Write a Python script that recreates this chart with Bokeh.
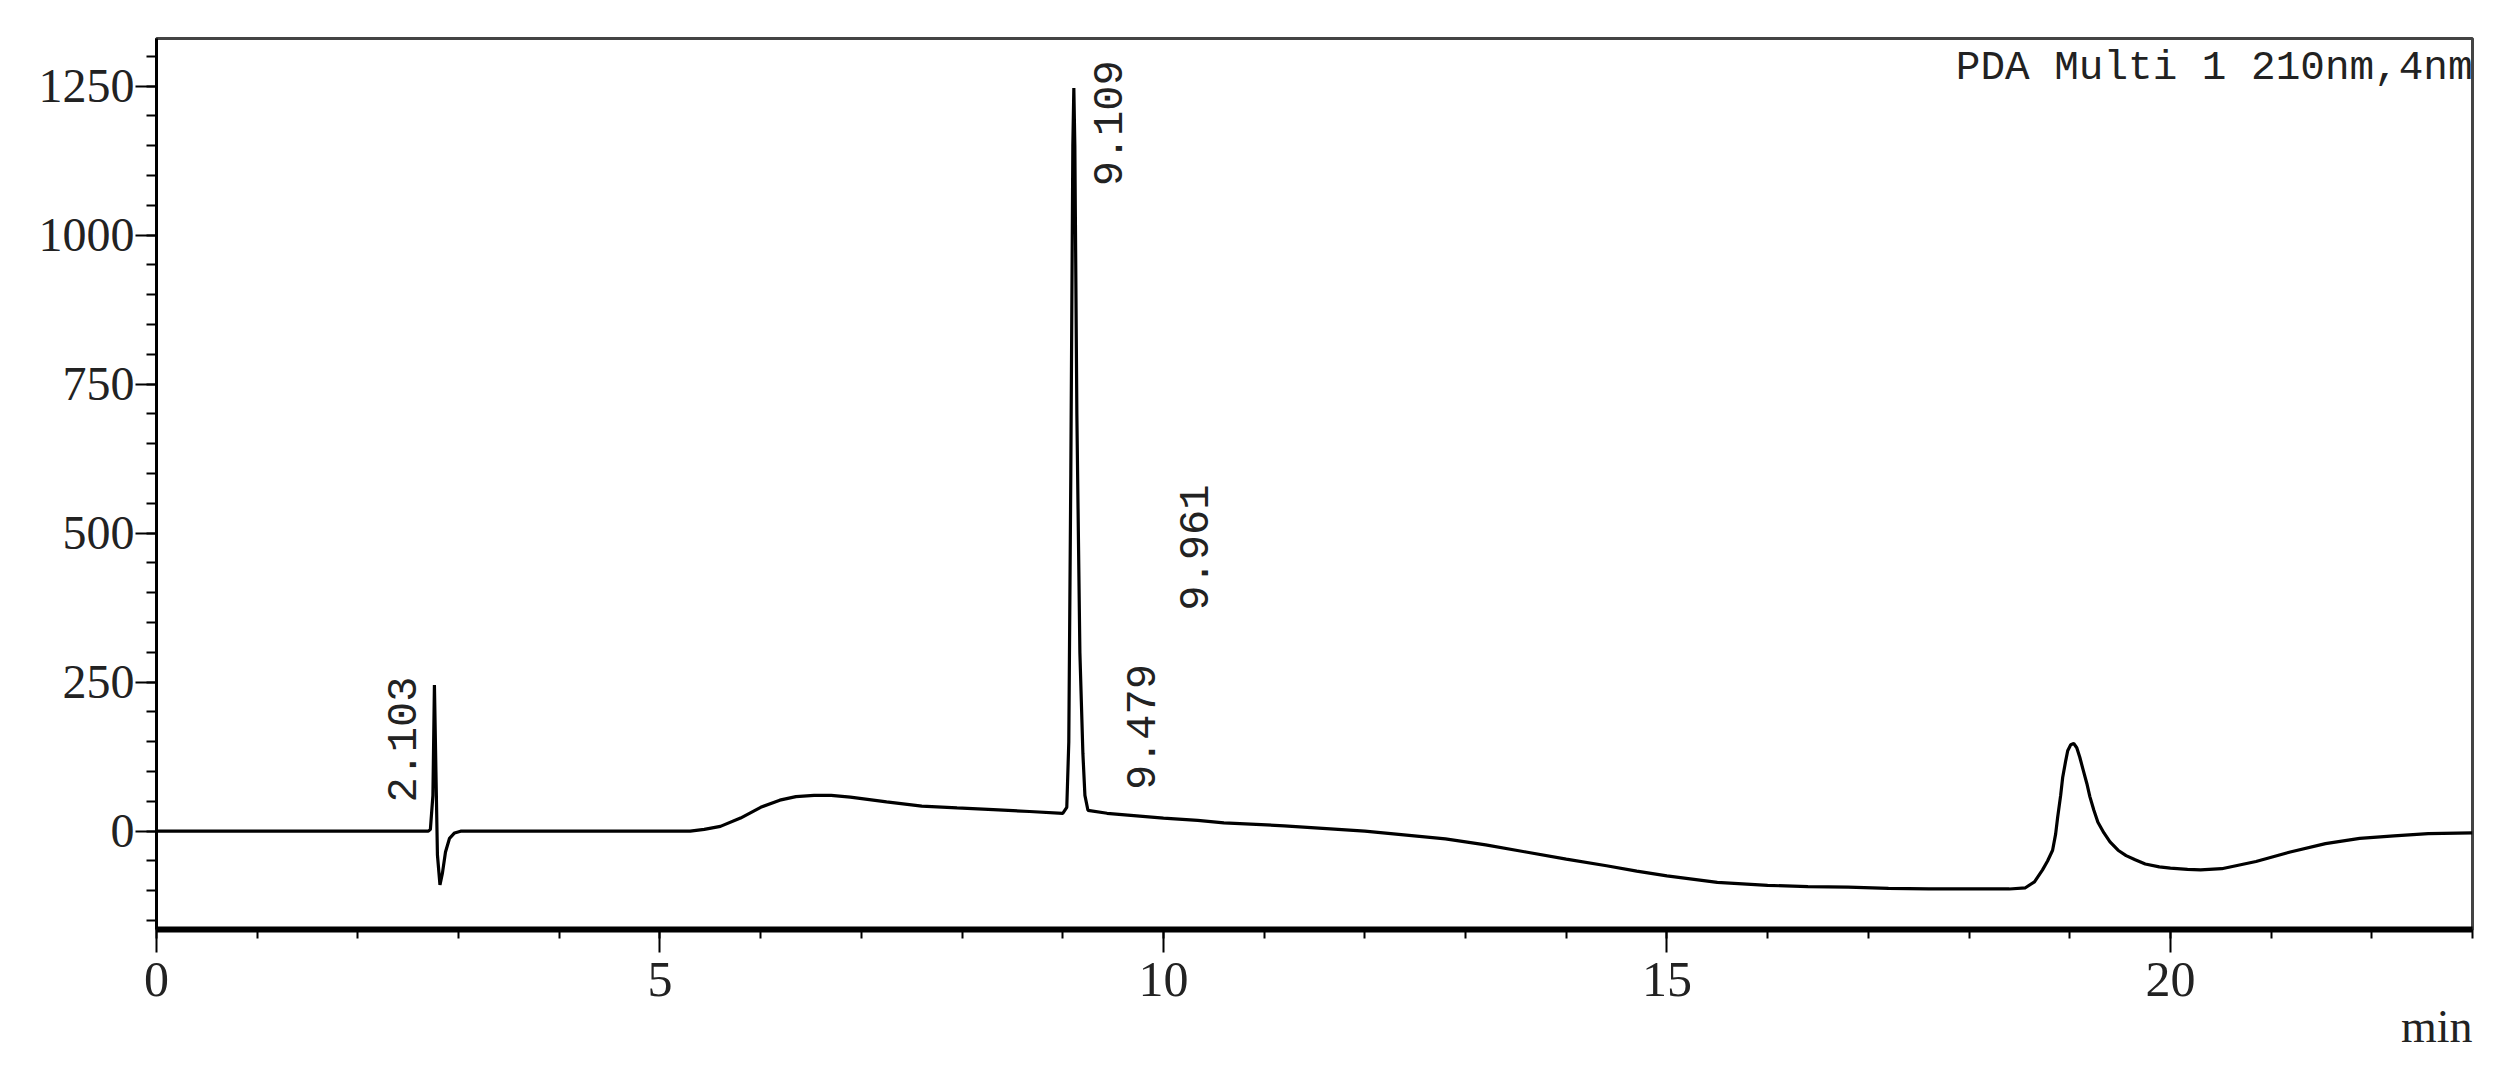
from bokeh.plotting import figure
from bokeh.models import FixedTicker, Label, Title
from bokeh.embed import file_html
from bokeh.resources import INLINE
import math

# ---- data ----
time_min = [0.0, 2.70, 2.72, 2.745, 2.76, 2.775, 2.79, 2.815, 2.84, 2.87, 2.91, 2.96, 3.02,
            5.30, 5.44, 5.60, 5.80, 6.00, 6.19, 6.35, 6.53, 6.70, 6.89, 7.25, 7.60, 7.95,
            8.31, 8.67, 9.00, 9.04, 9.06, 9.08, 9.10, 9.11, 9.12, 9.14, 9.17, 9.20, 9.22,
            9.25, 9.44, 10.0, 10.34, 10.6, 11.2, 12.0, 12.8, 13.2, 13.6, 14.0, 14.4, 14.7,
            15.0, 15.5, 16.0, 16.4, 16.8, 17.2, 17.6, 18.4, 18.56, 18.65, 18.73, 18.78,
            18.83, 18.86, 18.88, 18.91, 18.93, 18.96, 18.98, 19.01, 19.04, 19.07, 19.10,
            19.13, 19.17, 19.20, 19.24, 19.28, 19.34, 19.40, 19.48, 19.56, 19.65, 19.75,
            19.89, 20.00, 20.17, 20.30, 20.51, 20.85, 21.19, 21.54, 21.88, 22.22, 22.56, 23.0]
signal_mau = [0, 0, 3, 60, 245, 100, -40, -90, -70, -35, -12, -3, 0,
              0, 3, 8, 22, 40, 52, 58, 60, 60, 57, 49, 42, 39,
              36, 33, 30, 40, 150, 600, 1150, 1247, 1150, 700, 300, 130, 60,
              35, 30, 22, 18, 14, 9, 0, -13, -23, -35, -47, -58, -67,
              -75, -86, -91, -93, -94, -96, -97, -97, -95, -85, -65, -50,
              -32, -5, 23, 60, 90, 118, 135, 145, 147, 140, 124,
              105, 80, 58, 35, 15, -3, -18, -32, -41, -48, -55,
              -60, -62, -64, -65, -63, -51, -35, -21, -12, -8, -4, -3]

peak_labels = ["2.103", "9.109", "9.479", "9.961"]
peak_label_x = [2.44, 9.45, 9.78, 10.30]
peak_label_y = [48, 1082, 69, 370]

x_major = [0, 5, 10, 15, 20]
x_minor = list(range(0, 24))
y_major = [0, 250, 500, 750, 1000, 1250]
y_minor = list(range(-150, 1301, 50))

channel_text = "PDA Multi 1 210nm,4nm"
x_unit = "min"

p = figure(width=2504, height=1075, x_range=(0, 23), y_range=(-165, 1330),
           output_backend="svg", toolbar_location=None,
           min_border_left=156, min_border_right=32, min_border_top=38, min_border_bottom=146)
p.background_fill_color = "white"
p.border_fill_color = "white"
p.outline_line_color = "#444444"
p.outline_line_width = 3
p.xgrid.visible = False
p.ygrid.visible = False

p.line(time_min, signal_mau, line_color="black", line_width=3.2)

# axes
p.xaxis.ticker = FixedTicker(ticks=x_major, minor_ticks=x_minor)
p.yaxis.ticker = FixedTicker(ticks=y_major, minor_ticks=y_minor)
for ax in (p.xaxis, p.yaxis):
    ax.major_tick_in = 0
    ax.minor_tick_in = 0
    ax.major_tick_line_color = "black"
    ax.minor_tick_line_color = "black"
    ax.major_tick_line_width = 2
    ax.minor_tick_line_width = 2
    ax.axis_line_color = "black"
    ax.major_label_text_color = "#222222"
    ax.major_label_text_font = "Liberation Serif"

p.xaxis.axis_line_width = 6
p.xaxis.major_tick_out = 23
p.xaxis.minor_tick_out = 9
p.xaxis.major_label_text_font_size = "50px"
p.xaxis.major_label_standoff = 10

p.yaxis.axis_line_width = 3
p.yaxis.major_tick_out = 21
p.yaxis.minor_tick_out = 10
p.yaxis.major_label_text_font_size = "48px"
p.yaxis.major_label_standoff = 1

# peak retention time labels (rotated)
for txt, lx, ly in zip(peak_labels, peak_label_x, peak_label_y):
    p.add_layout(Label(x=lx, y=ly, text=txt, angle=math.pi / 2,
                       text_align="left", text_baseline="middle",
                       text_font="Liberation Mono", text_font_size="42px",
                       text_color="#222222"))

p.add_layout(Label(x=23, y=1330, text=channel_text, text_align="right",
                   text_baseline="top", y_offset=-6,
                   text_font="Liberation Mono", text_font_size="41px",
                   text_color="#222222"))

p.add_layout(Title(text=x_unit, align="right", text_font="Liberation Serif",
                   text_font_size="46px", text_font_style="normal",
                   text_color="#222222", standoff=0), "below")

open("out.html", "w").write(file_html(p, INLINE))
